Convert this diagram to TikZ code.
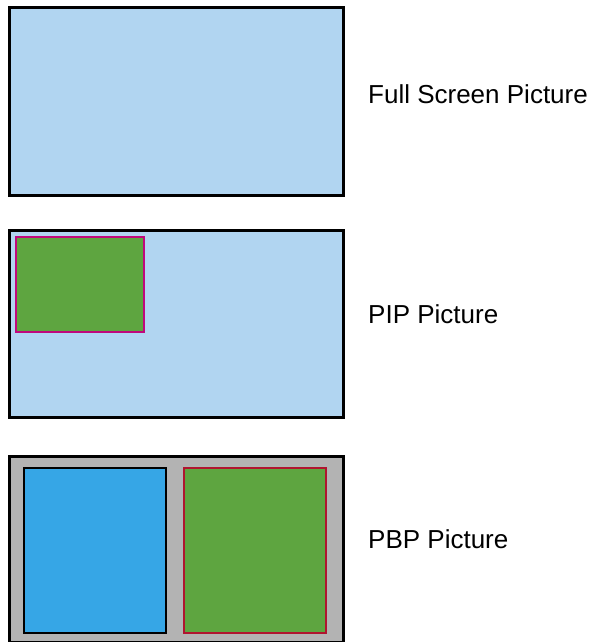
\documentclass[tikz,border=0pt]{standalone}
\usepackage{fontspec}
\setmainfont{Liberation Sans}
\usepackage{tikz}

\definecolor{screenblue}{HTML}{B1D5F1}
\definecolor{pipgreen}{HTML}{5EA540}
\definecolor{pipborder}{HTML}{C0087C}
\definecolor{pbpblue}{HTML}{36A6E6}
\definecolor{pbpgray}{HTML}{B3B3B3}
\definecolor{pbpborder}{HTML}{B0152F}

\begin{document}
\begin{tikzpicture}[x=1pt, y=-1pt,
    screen/.style={draw=black, line width=3pt, anchor=north west, inner sep=0pt},
    label/.style={anchor=base west, inner sep=0pt, font=\fontsize{26}{30}\selectfont}]
                    \useasboundingbox (0,0) rectangle (594,642);
                    % Nodes
                    \node[screen, fill=screenblue, minimum width=334pt, minimum height=188pt] (full) at (8,6) {};
                    \node[screen, fill=screenblue, minimum width=334pt, minimum height=187pt] (pip) at (8,229) {};
                    \node[screen, draw=pipborder, line width=2pt, fill=pipgreen, minimum width=128pt, minimum height=95pt] (pipsub) at (15,236) {};
                    \node[screen, fill=pbpgray, minimum width=334pt, minimum height=186pt] (pbp) at (8,455) {};
                    \node[screen, line width=2pt, fill=pbpblue, minimum width=142pt, minimum height=165pt] (pbpleft) at (23,467) {};
                    \node[screen, draw=pbpborder, line width=1.5pt, fill=pipgreen, minimum width=142pt, minimum height=165pt] (pbpright) at (183,467) {};
                    % Labels
                    \node[label] (fulltext) at (368,103) {Full Screen Picture};
                    \node[label] (piptext) at (368,323) {PIP Picture};
                    \node[label] (pbptext) at (368,548) {PBP Picture};
                \end{tikzpicture}
\end{document}
